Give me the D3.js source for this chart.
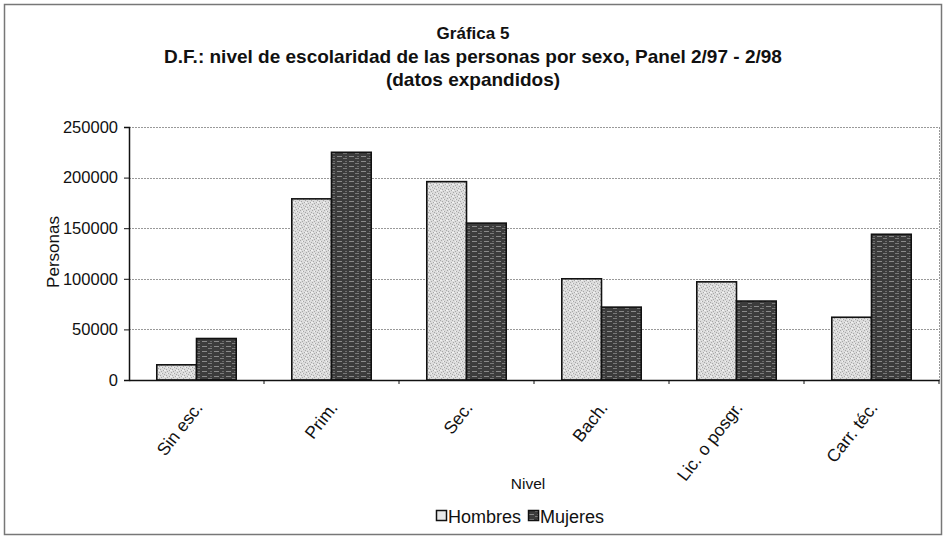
<!DOCTYPE html>
<html>
<head>
<meta charset="utf-8">
<script src="https://cdn.jsdelivr.net/npm/d3@7/dist/d3.min.js"></script>
<style>
  html, body { margin: 0; padding: 0; background: #fff; }
  svg { display: block; font-family: "Liberation Sans", Arial, sans-serif; }
</style>
</head>
<body>
<svg id="chart" width="943" height="537"></svg>
<script>
// Education level of people by sex, Mexico City panel 2/97 - 2/98
const categories = ["Sin esc.", "Prim.", "Sec.", "Bach.", "Lic. o posgr.", "Carr. téc."];
const series = ["Hombres", "Mujeres"];
const hombres = [15000, 179000, 196000, 100000, 97000, 62000];
const mujeres = [41000, 225000, 155000, 72000, 78000, 144000];
const yTicks = [0, 50000, 100000, 150000, 200000, 250000];
const titleLines = [
  "Gráfica 5",
  "D.F.: nivel de escolaridad de las personas por sexo, Panel 2/97 - 2/98",
  "(datos expandidos)"
];

const rows = categories.map((c, i) => ({ cat: c, Hombres: hombres[i], Mujeres: mujeres[i] }));

const svg = d3.select("#chart");
const W = 943, H = 537;
const plot = { left: 129, right: 939, top: 127, bottom: 380 };

// Fill textures for the two series
const defs = svg.append("defs");
const pLight = defs.append("pattern").attr("id", "fillHombres")
  .attr("patternUnits", "userSpaceOnUse").attr("width", 6).attr("height", 6);
pLight.append("rect").attr("width", 6).attr("height", 6).attr("fill", "#dcdcdc");
[[0,0],[3,1],[1,3],[4,4],[2,5],[5,2]].forEach(([x, y]) =>
  pLight.append("rect").attr("x", x).attr("y", y).attr("width", 1).attr("height", 1).attr("fill", "#a8a8a8"));
[[2,1],[5,4],[0,4]].forEach(([x, y]) =>
  pLight.append("rect").attr("x", x).attr("y", y).attr("width", 1).attr("height", 1).attr("fill", "#f2f2f2"));

const pDark = defs.append("pattern").attr("id", "fillMujeres")
  .attr("patternUnits", "userSpaceOnUse").attr("width", 12).attr("height", 5);
pDark.append("rect").attr("width", 12).attr("height", 5).attr("fill", "#3c3c3c");
pDark.append("rect").attr("x", 1).attr("y", 1).attr("width", 5).attr("height", 1).attr("fill", "#8a8a8a");
pDark.append("rect").attr("x", 7).attr("y", 3).attr("width", 4).attr("height", 1).attr("fill", "#7a7a7a");
pDark.append("rect").attr("x", 9).attr("y", 1).attr("width", 2).attr("height", 1).attr("fill", "#6a6a6a");

const fills = { Hombres: "url(#fillHombres)", Mujeres: "url(#fillMujeres)" };

// Outer chart frame
svg.append("rect").attr("x", 4.5).attr("y", 4.5).attr("width", W - 6).attr("height", H - 7)
  .attr("fill", "#fff").attr("stroke", "#777").attr("stroke-width", 1.5);

// Scales
const x0 = d3.scaleBand().domain(categories).range([plot.left, plot.right]).paddingInner(0).paddingOuter(0);
const x1 = d3.scaleBand().domain(series).range([0, x0.bandwidth()]).paddingInner(0).paddingOuter(0.7);
const y = d3.scaleLinear().domain([0, 250000]).range([plot.bottom, plot.top]);

// Gridlines
svg.append("g")
  .selectAll("line").data(yTicks.filter(t => t > 0)).join("line")
  .attr("x1", plot.left).attr("x2", plot.right)
  .attr("y1", d => Math.round(y(d)) + 0.5).attr("y2", d => Math.round(y(d)) + 0.5)
  .attr("stroke", "#999").attr("stroke-width", 1).attr("stroke-dasharray", "2,1");

// Right edge of plot area
svg.append("line").attr("x1", plot.right + 0.5).attr("x2", plot.right + 0.5)
  .attr("y1", y(250000)).attr("y2", plot.bottom)
  .attr("stroke", "#999").attr("stroke-dasharray", "2,1");

// Bars
const groups = svg.append("g").selectAll("g").data(rows).join("g")
  .attr("transform", d => `translate(${x0(d.cat)},0)`);
groups.selectAll("rect").data(d => series.map(s => ({ key: s, value: d[s] }))).join("rect")
  .attr("x", d => x1(d.key))
  .attr("y", d => y(d.value))
  .attr("width", x1.bandwidth())
  .attr("height", d => y(0) - y(d.value))
  .attr("fill", d => fills[d.key])
  .attr("stroke", "#111").attr("stroke-width", 1.6);

// Y axis
const yAxis = svg.append("g").attr("transform", `translate(${plot.left},0)`)
  .call(d3.axisLeft(y).tickValues(yTicks).tickFormat(d3.format("d")).tickSize(5).tickPadding(6));
yAxis.select(".domain").attr("stroke", "#111").attr("stroke-width", 1.5);
yAxis.selectAll(".tick line").attr("stroke", "#111");
yAxis.selectAll("text").attr("font-size", 16.5).attr("fill", "#111");

// X axis
const xAxis = svg.append("g").attr("transform", `translate(0,${plot.bottom})`)
  .call(d3.axisBottom(x0).tickSize(0).tickFormat(""));
xAxis.select(".domain").attr("stroke", "#111").attr("stroke-width", 1.5);
// category separator ticks
svg.append("g").selectAll("line").data(categories).join("line")
  .attr("x1", d => x0(d) + x0.bandwidth())
  .attr("x2", d => x0(d) + x0.bandwidth())
  .attr("y1", plot.bottom).attr("y2", plot.bottom + 4)
  .attr("stroke", "#111");

// Rotated category labels
svg.append("g").selectAll("text").data(categories).join("text")
  .attr("transform", d => `translate(${x0(d) + x0.bandwidth() / 2 + 7},${plot.bottom + 28}) rotate(-52)`)
  .attr("text-anchor", "end")
  .attr("font-size", 17.5).attr("fill", "#111")
  .text(d => d);

// Axis titles
svg.append("text").attr("x", 528).attr("y", 489).attr("text-anchor", "middle")
  .attr("font-size", 15.5).attr("fill", "#111").text("Nivel");
svg.append("text").attr("transform", `translate(59,252) rotate(-90)`).attr("text-anchor", "middle")
  .attr("font-size", 17).attr("fill", "#111").text("Personas");

// Title
svg.append("g").selectAll("text").data(titleLines).join("text")
  .attr("x", 473).attr("y", (d, i) => 39 + i * 23.5)
  .attr("text-anchor", "middle").attr("font-weight", "bold")
  .attr("font-size", (d, i) => i === 0 ? 17 : 19).attr("fill", "#111").text(d => d);

// Legend
const legend = svg.append("g").attr("transform", "translate(436,523)");
let lx = 0;
series.forEach(s => {
  const g = legend.append("g").attr("transform", `translate(${lx},0)`);
  g.append("rect").attr("x", 0.5).attr("y", -12.5).attr("width", 10).attr("height", 10)
    .attr("fill", s === "Hombres" ? "#e8e8e8" : fills[s]).attr("stroke", "#111").attr("stroke-width", 1.5);
  const t = g.append("text").attr("x", 12).attr("y", 0).attr("font-size", 18).attr("fill", "#111").text(s);
  lx += 12 + t.node().getComputedTextLength() + 7;
});
</script>
</body>
</html>
